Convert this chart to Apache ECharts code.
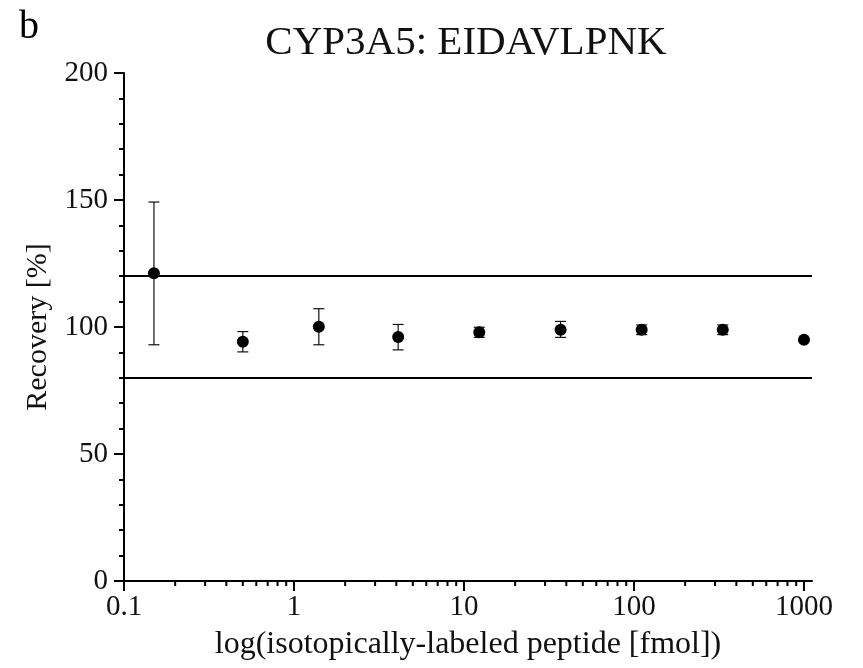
<!DOCTYPE html>
<html>
<head>
<meta charset="utf-8">
<script src="https://cdn.jsdelivr.net/npm/echarts@6/dist/echarts.min.js"></script>
<style>
html,body{margin:0;padding:0;background:#fff;}
#chart{width:863px;height:668px;}
</style>
</head>
<body>
<div id="chart"></div>
<script>
// ---- data ----
var amounts = [0.15, 0.5, 1.4, 4.1, 12.3, 37, 111, 333, 1000];
var recovery = [121.2, 94.2, 100.1, 96.1, 97.9, 98.9, 98.9, 98.9, 95.0];
var errLow  = [93.0, 90.2, 93.0, 91.0, 95.9, 95.9, 97.0, 97.0, 94.8];
var errHigh = [149.2, 98.2, 107.2, 101.0, 99.9, 102.2, 100.8, 100.8, 95.2];
var limits = [80, 120];
var xMajorTicks = [0.1, 1, 10, 100, 1000];
var xTickLabels = ['0.1', '1', '10', '100', '1000'];
var xMinorMult = [2, 3, 4, 5, 6, 7, 8, 9];
var yTickLabels = ['0', '50', '100', '150', '200'];

var FONT = 'Liberation Serif';

var pts = amounts.map(function (a, i) { return [a, recovery[i]]; });
var bars = amounts.map(function (a, i) { return [a, errLow[i], errHigh[i]]; });
var tickData = [];
xMajorTicks.forEach(function (t) { tickData.push([t, 0, 1]); });
xMajorTicks.slice(0, 4).forEach(function (t) {
  xMinorMult.forEach(function (m) { tickData.push([t * m, 0, 0]); });
});

var chart = echarts.init(document.getElementById('chart'), null, {renderer: 'canvas'});
chart.setOption({
  animation: false,
  backgroundColor: '#fff',
  textStyle: {fontFamily: FONT, color: '#000'},
  grid: {left: 124, right: 51, top: 73, bottom: 87, containLabel: false},
  graphic: [
    {type: 'text', left: 19, top: 7, style: {text: 'b', font: '40px "Liberation Serif"', fill: '#000'}},
    {type: 'text', x: 466, y: 23, style: {text: 'CYP3A5: EIDAVLPNK', font: '41px "Liberation Serif"', fill: '#111', textAlign: 'center'}}
  ],
  xAxis: {
    type: 'log', logBase: 10, min: 0.1, max: 1115,
    name: 'log(isotopically-labeled peptide [fmol])',
    nameLocation: 'middle', nameGap: 48,
    nameTextStyle: {fontFamily: FONT, fontSize: 32, color: '#111'},
    axisLine: {onZero: false, lineStyle: {color: '#000', width: 2}},
    axisTick: {show: false},
    splitLine: {show: false},
    axisLabel: {
      fontFamily: FONT, fontSize: 29, color: '#111', margin: 12,
      showMaxLabel: false,
      formatter: function (v) {
        for (var i = 0; i < xMajorTicks.length; i++) {
          if (Math.abs(Math.log10(v) - Math.log10(xMajorTicks[i])) < 1e-6) return xTickLabels[i];
        }
        return '';
      }
    }
  },
  yAxis: {
    type: 'value', min: 0, max: 200, interval: 50,
    name: 'Recovery [%]', nameLocation: 'middle', nameGap: 71, nameRotate: 90,
    nameTextStyle: {fontFamily: FONT, fontSize: 30, color: '#111'},
    axisLine: {show: true, lineStyle: {color: '#000', width: 2}},
    axisTick: {show: true, length: 10, lineStyle: {color: '#000', width: 2}},
    minorTick: {show: true, splitNumber: 5, length: 5, lineStyle: {color: '#000', width: 2}},
    splitLine: {show: false},
    minorSplitLine: {show: false},
    axisLabel: {
      fontFamily: FONT, fontSize: 29, color: '#111', margin: 16,
      formatter: function (v) { return yTickLabels[Math.round(v / 50)]; }
    }
  },
  series: [
    {
      type: 'custom', name: 'xticks', silent: true, clip: false, z: 3,
      data: tickData,
      renderItem: function (params, api) {
        var p = api.coord([api.value(0), 0]);
        var len = api.value(2) ? 10 : 5;
        return {type: 'line', shape: {x1: p[0], y1: p[1], x2: p[0], y2: p[1] + len},
          style: {stroke: '#000', lineWidth: 2}};
      }
    },
    {
      type: 'custom', name: 'err', silent: true, z: 4,
      data: bars,
      renderItem: function (params, api) {
        var lo = api.coord([api.value(0), api.value(1)]);
        var hi = api.coord([api.value(0), api.value(2)]);
        var w = 5.5;
        var st = {stroke: '#111', lineWidth: 1.2};
        return {type: 'group', children: [
          {type: 'line', shape: {x1: lo[0], y1: lo[1], x2: hi[0], y2: hi[1]}, style: st},
          {type: 'line', shape: {x1: lo[0] - w, y1: lo[1], x2: lo[0] + w, y2: lo[1]}, style: st},
          {type: 'line', shape: {x1: hi[0] - w, y1: hi[1], x2: hi[0] + w, y2: hi[1]}, style: st}
        ]};
      }
    },
    {
      type: 'scatter', name: 'recovery', z: 5,
      data: pts, symbol: 'circle', symbolSize: 12,
      itemStyle: {color: '#000', opacity: 1},
      markLine: {
        silent: true, symbol: ['none', 'none'], label: {show: false},
        lineStyle: {color: '#000', width: 2, type: 'solid'},
        data: limits.map(function (v) { return {yAxis: v}; })
      }
    }
  ]
});
</script>
</body>
</html>
